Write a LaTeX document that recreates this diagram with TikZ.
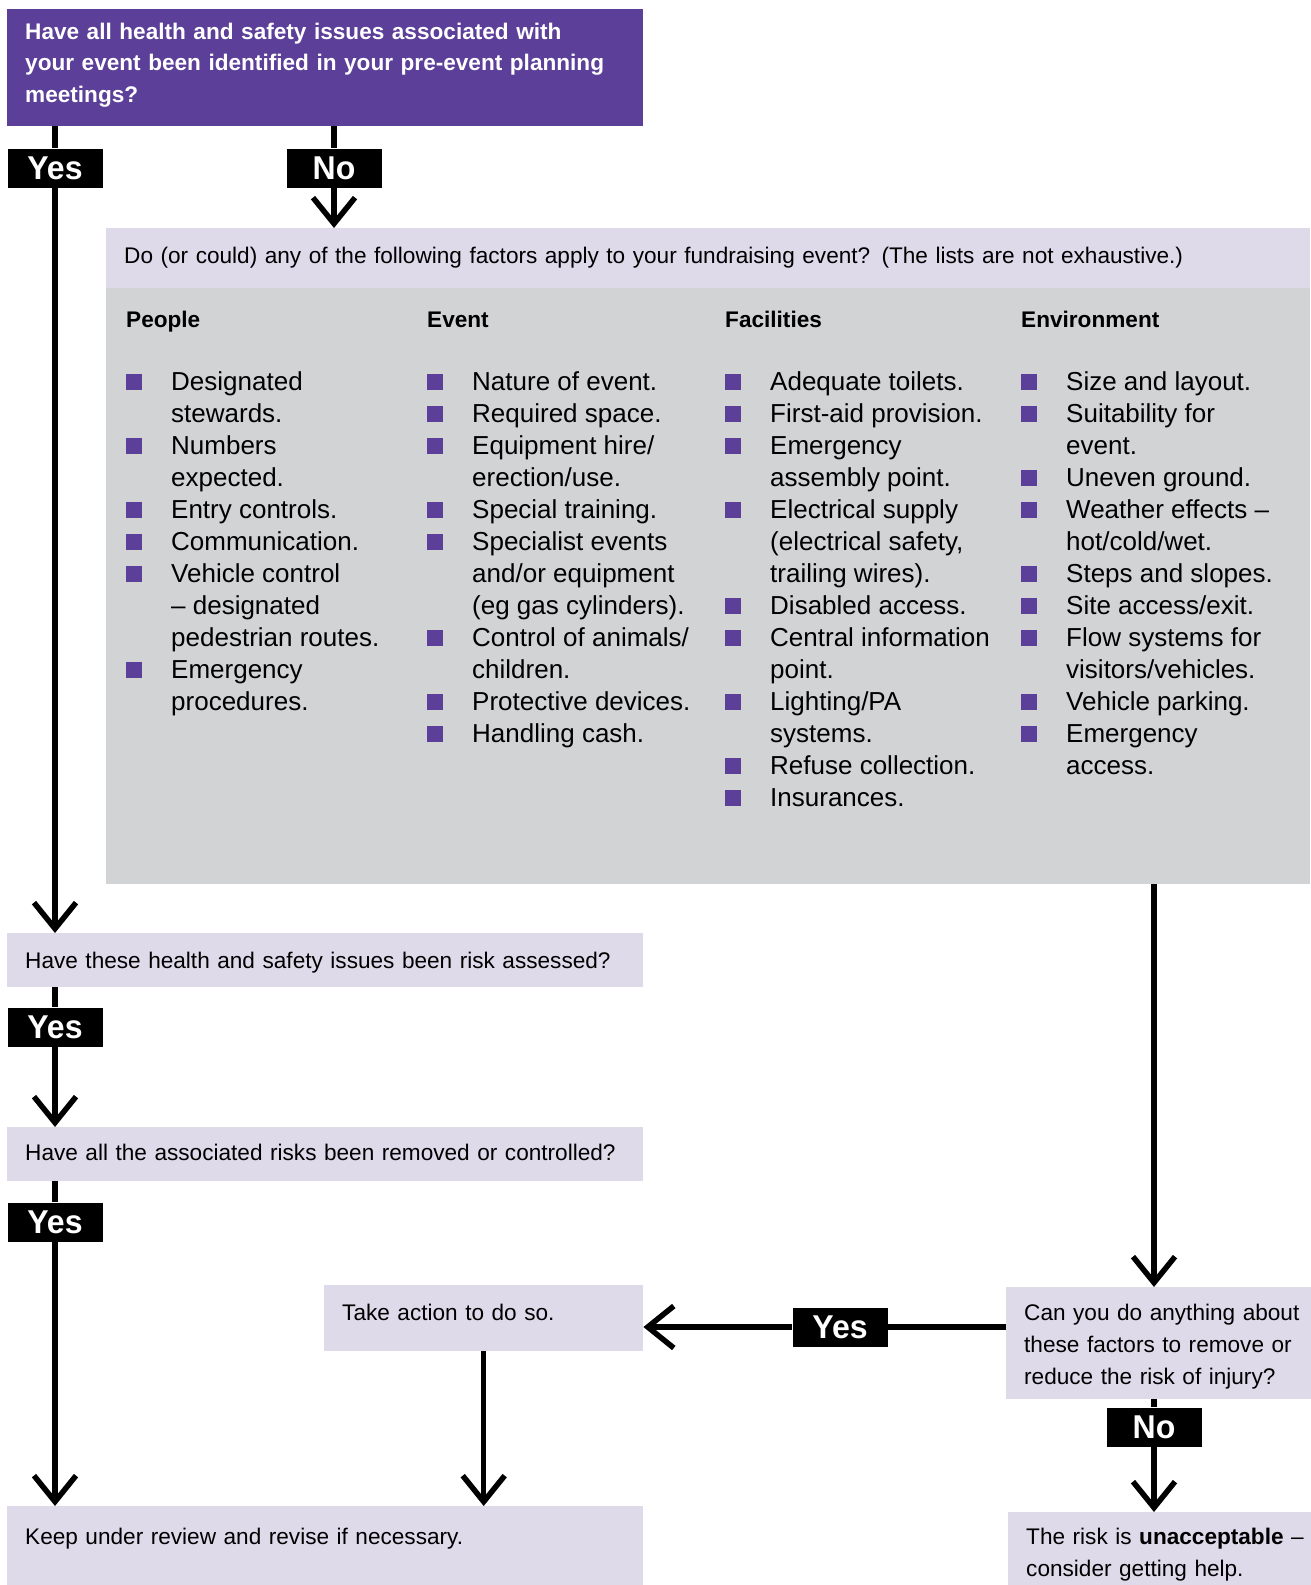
\documentclass[tikz,border=0pt]{standalone}
\usepackage{fontspec}
\setmainfont{Liberation Sans}
\newfontfamily\lblfont{Liberation Sans}[FakeStretch=0.97]
\usepackage{xcolor}
\usepackage{tikz}
\usetikzlibrary{arrows.meta, positioning, calc}
\definecolor{hspurple}{HTML}{5B3F98}
\definecolor{hslilac}{HTML}{DEDAEA}
\definecolor{hsgrey}{HTML}{D2D3D5}
\newcommand{\qsize}{\fontsize{22.6}{31.5}\selectfont}
\newcommand{\asize}{\fontsize{22.6}{32}\selectfont}
\newcommand{\itemsize}{\fontsize{26}{32}\selectfont}
\newcommand{\sq}{\makebox[45pt][l]{\textcolor{hspurple}{\rule{16pt}{16pt}}}}
\tikzset{
	qbox/.style={
		fill=hslilac,
		anchor=north west,
		align=left,
		inner xsep=18pt,
		inner ysep=0pt,
		font=\qsize
	},
	lbl/.style={
		fill=black,
		text=white,
		font=\lblfont\bfseries\fontsize{33}{33}\selectfont,
		minimum width=95pt,
		minimum height=39pt,
		inner sep=0pt
	},
	flow/.style={
		line width=5.5pt,
		-{Straight Barb[length=26pt, width=42pt]}
	},
	link/.style={
		line width=5.5pt
	}
}

\begin{document}
\begin{tikzpicture}[x=1pt, y=-1pt]
		\useasboundingbox (0,0) rectangle (1310,1585);
		% Column styles
		\tikzstyle{head}=[anchor=base west, inner sep=0pt, font=\bfseries\qsize]
		\tikzstyle{col}=[anchor=base west, inner sep=0pt, font=\itemsize]
		
		%--- Question boxes ---
		\node[qbox, fill=hspurple, text=white, font=\bfseries\qsize, text width=600pt, text height=30pt, text depth=87pt] (Q1) at (7,9) {Have all health and safety issues associated with\\your event been identified in your pre-event planning\\meetings?};
		\node[qbox, text width=1168pt, text height=35pt, text depth=25pt] (Q0) at (106,228) {Do (or could) any of the following factors apply to your fundraising event? (The lists are not exhaustive.)};
		\node[anchor=north west, fill=hsgrey, minimum width=1204pt, minimum height=596pt, inner sep=0pt] (Fac) at (106,288) {};
		\node[qbox, text width=600pt, text height=35pt, text depth=19pt] (Q2) at (7,933) {Have these health and safety issues been risk assessed?};
		\node[qbox, text width=600pt, text height=33pt, text depth=21pt] (Q3) at (7,1127) {Have all the associated risks been removed or controlled?};
		\node[qbox, text width=283pt, text height=35pt, text depth=31pt] (Act) at (324,1285) {Take action to do so.};
		\node[qbox, font=\asize, text width=290pt, text height=33pt, text depth=79pt] (Can) at (1006,1287) {Can you do anything about\\these factors to remove or\\reduce the risk of injury?};
		\node[qbox, font=\asize, text width=290pt, text height=32pt, text depth=41pt] (Risk) at (1008,1512) {The risk is \textbf{unacceptable} –\\consider getting help.};
		\node[qbox, text width=600pt, text height=38pt, text depth=41pt] (Keep) at (7,1506) {Keep under review and revise if necessary.};
		
		%--- Factor lists ---
		\node[head] (Hpeople) at (126,327) {People};
		\node[head] (Hevent) at (427,327) {Event};
		\node[head] (Hfacil) at (725,327) {Facilities};
		\node[head] (Henv) at (1021,327) {Environment};
		
		\node[col] (Lpeople) at (126,390) {\begin{tabular}[t]{@{}l@{}l@{}}
			\sq & Designated\\
			& stewards.\\
			\sq & Numbers\\
			& expected.\\
			\sq & Entry controls.\\
			\sq & Communication.\\
			\sq & Vehicle control\\
			& – designated\\
			& pedestrian routes.\\
			\sq & Emergency\\
			& procedures.
		\end{tabular}};
		\node[col] (Levent) at (427,390) {\begin{tabular}[t]{@{}l@{}l@{}}
			\sq & Nature of event.\\
			\sq & Required space.\\
			\sq & Equipment hire/\\
			& erection/use.\\
			\sq & Special training.\\
			\sq & Specialist events\\
			& and/or equipment\\
			& (eg gas cylinders).\\
			\sq & Control of animals/\\
			& children.\\
			\sq & Protective devices.\\
			\sq & Handling cash.
		\end{tabular}};
		\node[col] (Lfacil) at (725,390) {\begin{tabular}[t]{@{}l@{}l@{}}
			\sq & Adequate toilets.\\
			\sq & First-aid provision.\\
			\sq & Emergency\\
			& assembly point.\\
			\sq & Electrical supply\\
			& (electrical safety,\\
			& trailing wires).\\
			\sq & Disabled access.\\
			\sq & Central information\\
			& point.\\
			\sq & Lighting/PA\\
			& systems.\\
			\sq & Refuse collection.\\
			\sq & Insurances.
		\end{tabular}};
		\node[col] (Lenv) at (1021,390) {\begin{tabular}[t]{@{}l@{}l@{}}
			\sq & Size and layout.\\
			\sq & Suitability for\\
			& event.\\
			\sq & Uneven ground.\\
			\sq & Weather effects –\\
			& hot/cold/wet.\\
			\sq & Steps and slopes.\\
			\sq & Site access/exit.\\
			\sq & Flow systems for\\
			& visitors/vehicles.\\
			\sq & Vehicle parking.\\
			\sq & Emergency\\
			& access.
		\end{tabular}};
		
		%--- Yes / No labels ---
		\node[lbl] (Yes1) at (55,168) {Yes};
		\node[lbl] (No1) at (334,168) {No};
		\node[lbl] (Yes2) at (55,1027) {Yes};
		\node[lbl] (Yes3) at (55,1222) {Yes};
		\node[lbl] (Yes4) at (840,1327) {Yes};
		\node[lbl] (No2) at (1154,1427) {No};
		
		%--- Connectors ---
		\path (Can.north west) ++(0,40) coordinate (CanL);
		
		\draw[link] (Q1.south -| Yes1) -- (Yes1);
		\draw[flow] (Yes1) -- (Yes1 |- Q2.north);
		\draw[link] (Q1.south -| No1) -- (No1);
		\draw[flow] (No1) -- (No1 |- Q0.north);
		\draw[link] (Q2.south -| Yes2) -- (Yes2);
		\draw[flow] (Yes2) -- (Yes2 |- Q3.north);
		\draw[link] (Q3.south -| Yes3) -- (Yes3);
		\draw[flow] (Yes3) -- (Yes3 |- Keep.north);
		\draw[flow] (Fac.south -| No2) -- (No2 |- Can.north);
		\draw[link] (CanL) -- (Yes4);
		\draw[flow] (Yes4) -- (Yes4 -| Act.east);
		\draw[link] (Can.south -| No2) -- (No2);
		\draw[flow] (No2) -- (No2 |- Risk.north);
		\draw[flow] (Act.south) -- (Act.south |- Keep.north);
	\end{tikzpicture}
\end{document}
